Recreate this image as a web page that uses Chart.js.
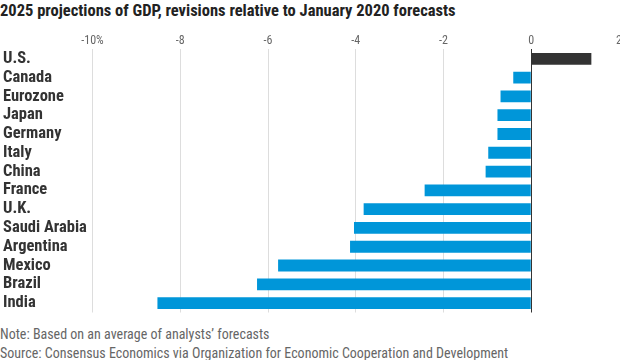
<!DOCTYPE html>
<html>
<head>
<meta charset="utf-8">
<script src="https://cdn.jsdelivr.net/npm/chart.js@4/dist/chart.umd.min.js"></script>
<style>
  html, body { margin: 0; padding: 0; background: #fff; width: 620px; height: 360px; overflow: hidden; }
  #title { position: absolute; left: 0; top: 1px; font: bold 16.5px "Roboto Condensed", sans-serif; color: #222; white-space: nowrap; }
  #wrap { position: absolute; left: 0; top: 29px; width: 640px; height: 284px; }
  .note { position: absolute; left: 0; font: 14px "Roboto Condensed", sans-serif; color: #666; white-space: nowrap; }
</style>
</head>
<body>
<div id="title">2025 projections of GDP, revisions relative to January 2020 forecasts</div>
<div id="wrap"><canvas id="chart"></canvas></div>
<div class="note" style="top:326px">Note: Based on an average of analysts’ forecasts</div>
<div class="note" style="top:345px">Source: Consensus Economics via Organization for Economic Cooperation and Development</div>
<script>
const COUNTRIES = ['U.S.', 'Canada', 'Eurozone', 'Japan', 'Germany', 'Italy', 'China', 'France',
  'U.K.', 'Saudi Arabia', 'Argentina', 'Mexico', 'Brazil', 'India'];
// revision vs. Jan 2020 forecast, percentage points
const REVISIONS = [1.37, -0.41, -0.7, -0.77, -0.77, -0.98, -1.04, -2.43, -3.82, -4.04, -4.13, -5.77, -6.25, -8.52];
const X_TICKS = [-10, -8, -6, -4, -2, 0, 2];

const BLUE = '#0096d9';
const DARK = '#333333';
const FONT = 'Roboto Condensed';

new Chart(document.getElementById('chart'), {
  type: 'bar',
  data: {
    labels: COUNTRIES,
    datasets: [{
      data: REVISIONS,
      backgroundColor: REVISIONS.map((v) => (v > 0 ? DARK : BLUE)),
      barPercentage: 0.63,
      categoryPercentage: 1,
    }],
  },
  options: {
    indexAxis: 'y',
    responsive: true,
    maintainAspectRatio: false,
    animation: false,
    layout: { padding: { left: 3, right: 21, top: 4, bottom: 0.5 } },
    plugins: { legend: { display: false }, tooltip: { enabled: false } },
    scales: {
      x: {
        position: 'top',
        min: -10,
        max: 2,
        afterBuildTicks: (scale) => { scale.ticks = X_TICKS.map((value) => ({ value })); },
        border: { display: false },
        grid: {
          drawTicks: false,
          lineWidth: 1,
          color: (ctx) => (ctx.tick.value === 0 ? DARK : ctx.tick.value === 2 ? 'rgba(0,0,0,0)' : '#dddddd'),
        },
        ticks: {
          padding: 1,
          color: '#666',
          font: { family: FONT, size: 12 },
          callback: (v) => (v === -10 ? '-10%' : String(v)),
        },
      },
      y: {
        border: { display: false },
        grid: { display: false, drawTicks: false },
        // fixed label column; drop the half-label padding so rows fill the full height
        afterFit: (scale) => {
          scale.width = 89.5;
          scale.paddingTop = 0;
          scale.paddingBottom = 0;
        },
        ticks: {
          autoSkip: false,
          crossAlign: 'far',
          padding: 0,
          color: DARK,
          font: { family: FONT, size: 16.5, weight: 'bold' },
        },
      },
    },
  },
});
</script>
</body>
</html>
